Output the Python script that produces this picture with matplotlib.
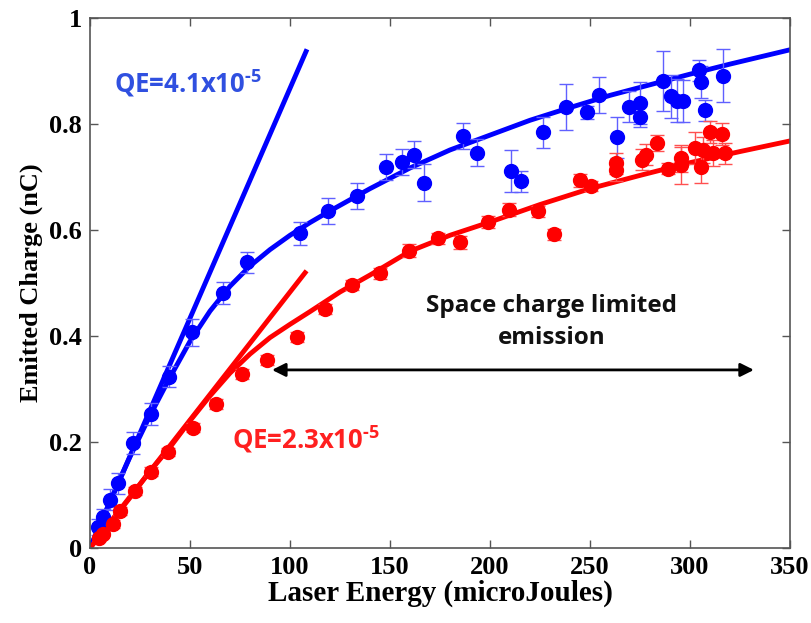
import matplotlib.pyplot as plt

plt.rcParams['mathtext.fontset'] = 'custom'
plt.rcParams['mathtext.rm'] = 'Open Sans:bold'
plt.rcParams['mathtext.default'] = 'rm'

# blue data set (high QE)
blue_x = [4.2, 6.7, 10, 14, 21.7, 30.5, 39.7, 51.2, 66.7, 78.3, 105, 119, 133.3, 148,
          155.8, 162, 167, 186.7, 193.7, 210.7, 215.3, 226.7, 238, 248.7, 254.7, 263.4,
          269.4, 275, 275, 286.4, 290.4, 293.7, 296.4, 304.7, 305.7, 307.5, 316.4]
blue_y = [0.040, 0.059, 0.091, 0.122, 0.198, 0.253, 0.323, 0.407, 0.481, 0.539, 0.594,
          0.636, 0.664, 0.719, 0.728, 0.742, 0.689, 0.777, 0.746, 0.711, 0.692, 0.784,
          0.832, 0.822, 0.855, 0.775, 0.833, 0.840, 0.814, 0.881, 0.852, 0.844, 0.843,
          0.901, 0.879, 0.826, 0.891]
blue_err = [0.015, 0.015, 0.02, 0.02, 0.02, 0.02, 0.02, 0.025, 0.02, 0.02, 0.022, 0.025,
            0.025, 0.025, 0.025, 0.025, 0.035, 0.025, 0.025, 0.04, 0.02, 0.03, 0.043,
            0.012, 0.034, 0.039, 0.03, 0.04, 0.02, 0.057, 0.04, 0.04, 0.04, 0.02, 0.03,
            0.02, 0.05]

# red data set (low QE)
red_x = [4.5, 6.7, 11.3, 15, 22.5, 30.5, 39.2, 51.4, 62.8, 76.2, 88.7, 103.4, 117.5,
         130.8, 145, 159.3, 174.2, 185, 199.2, 209.7, 224.2, 232, 245, 250.3, 263, 263,
         275.8, 278, 283.3, 289, 295.7, 295.7, 302.7, 306.3, 305.7, 310, 311.3, 315.8,
         317.5]
red_y = [0.018, 0.027, 0.045, 0.070, 0.108, 0.144, 0.181, 0.227, 0.272, 0.328, 0.355,
         0.398, 0.451, 0.496, 0.518, 0.561, 0.584, 0.577, 0.615, 0.638, 0.635, 0.592,
         0.694, 0.683, 0.713, 0.726, 0.733, 0.742, 0.764, 0.716, 0.735, 0.722, 0.755,
         0.751, 0.719, 0.785, 0.745, 0.781, 0.745]
red_err = [0.005, 0.005, 0.008, 0.008, 0.008, 0.008, 0.008, 0.008, 0.01, 0.01, 0.01,
           0.01, 0.01, 0.01, 0.01, 0.012, 0.01, 0.012, 0.012, 0.012, 0.01, 0.01, 0.012,
           0.01, 0.02, 0.02, 0.02, 0.02, 0.015, 0.01, 0.025, 0.035, 0.03, 0.025, 0.03,
           0.02, 0.025, 0.02, 0.02]

# fitted curves
blue_fit_x = [0, 10, 20, 30, 40, 50, 60, 70, 80, 90, 100, 110, 120, 140, 160, 180, 200,
              220, 240, 260, 280, 300, 320, 350]
blue_fit_y = [0, 0.088, 0.172, 0.25, 0.322, 0.39, 0.447, 0.494, 0.532, 0.563, 0.59,
              0.614, 0.636, 0.678, 0.717, 0.751, 0.779, 0.807, 0.831, 0.854, 0.874,
              0.894, 0.913, 0.94]
red_fit_x = [0, 10, 20, 30, 40, 50, 60, 70, 80, 90, 100, 110, 125, 140, 160, 180, 200,
             225, 250, 275, 300, 325, 350]
red_fit_y = [0, 0.047, 0.095, 0.145, 0.19, 0.24, 0.287, 0.33, 0.366, 0.397, 0.422,
             0.446, 0.483, 0.515, 0.56, 0.59, 0.615, 0.648, 0.678, 0.703, 0.727, 0.748,
             0.768]

# linear (low-energy) QE lines
blue_lin_x = [0, 108.5]
blue_lin_y = [0, 0.941]
red_lin_x = [0, 108.3]
red_lin_y = [0, 0.523]

BLUE = '#0000ff'
RED = '#ff0000'

fig = plt.figure(figsize=(8.11, 6.23), dpi=100)
ax = fig.add_axes([0.111, 0.1204, 0.863, 0.8507])

ax.plot(blue_lin_x, blue_lin_y, color=BLUE, lw=3.5, solid_capstyle='butt')
ax.plot(red_lin_x, red_lin_y, color=RED, lw=3.5, solid_capstyle='butt')
ax.plot(blue_fit_x, blue_fit_y, color=BLUE, lw=3.5)
ax.plot(red_fit_x, red_fit_y, color=RED, lw=3.5)

ax.errorbar(blue_x, blue_y, yerr=blue_err, fmt='o', color=BLUE, ms=10,
            ecolor='#6060ff', elinewidth=1, capsize=5, capthick=1)
ax.errorbar(red_x, red_y, yerr=red_err, fmt='o', color=RED, ms=10,
            ecolor='#ff5050', elinewidth=1, capsize=5, capthick=1)

ax.text(12, 0.878, r'QE=4.1x10$^{\text{-5}}$', color='#3050e0', fontsize=18.5,
        family='Open Sans', weight='bold', ha='left', va='center')
ax.text(71, 0.206, r'QE=2.3x10$^{\text{-5}}$', color='#ff2020', fontsize=18.5,
        family='Open Sans', weight='bold', ha='left', va='center')
ax.text(231, 0.427, 'Space charge limited\nemission', color='#111111', fontsize=17.5,
        family='Open Sans', weight='bold', ha='center', va='center', linespacing=1.45)
ax.annotate('', xy=(91, 0.336), xytext=(332, 0.336),
            arrowprops=dict(arrowstyle='<|-|>', color='black', lw=2,
                            mutation_scale=20, shrinkA=0, shrinkB=0))

ax.set_xlim(0, 350)
ax.set_ylim(0, 1)
ax.set_xticks([0, 50, 100, 150, 200, 250, 300, 350])
ax.set_yticks([0, 0.2, 0.4, 0.6, 0.8, 1])
ax.set_yticklabels(['0', '0.2', '0.4', '0.6', '0.8', '1'])
ax.tick_params(direction='in', top=True, right=True, length=6, width=1, color='#555555',
               labelsize=19, pad=6)
for lab in ax.get_xticklabels() + ax.get_yticklabels():
    lab.set_family('Liberation Serif')
    lab.set_weight('bold')
for s in ax.spines.values():
    s.set_color('#555555')
    s.set_linewidth(1.2)

ax.set_xlabel('Laser Energy (microJoules)', family='Liberation Serif', weight='bold',
              fontsize=21, labelpad=0)
ax.set_ylabel('Emitted Charge (nC)', family='Liberation Serif', weight='bold',
              fontsize=19, labelpad=4)

plt.savefig('out.png', dpi=100)
plt.close()
